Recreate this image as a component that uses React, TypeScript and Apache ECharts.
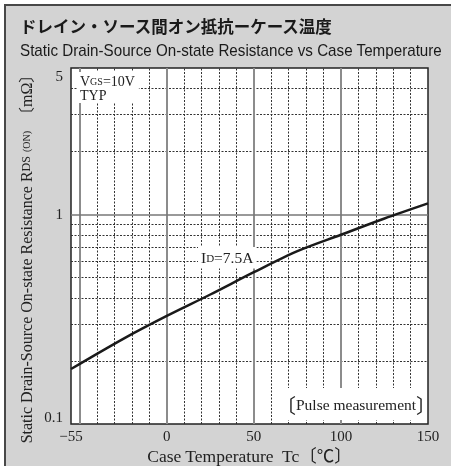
import React, { useEffect, useRef } from "react";
import * as echarts from "echarts";

// Case temperature (°C) and typical on-resistance (mΩ)
const temps = [-55, -25, 0, 25, 50, 75, 100, 125, 150];
const rdsOn = [0.183, 0.255, 0.328, 0.415, 0.53, 0.668, 0.8, 0.957, 1.13];

// tick labels
const xTickLabels = [-55, 0, 50, 100, 150];

// grid lines
const xMajorGrid = [-50, 0, 50, 100];
const xMinorGrid = [-40, -30, -20, -10, 10, 20, 30, 40, 60, 70, 80, 90, 110, 120, 130, 140];
const yMajorGrid = [1];
const yMinorGrid = [0.2, 0.3, 0.4, 0.5, 0.6, 0.7, 0.8, 0.9, 2, 3, 4];

const titleJa = "ドレイン・ソース間オン抵抗ーケース温度";
const titleEn = "Static Drain-Source On-state Resistance vs Case Temperature";

const SERIF = "'Liberation Serif', 'Noto Sans CJK JP', serif";

export default function App() {
  const ref = useRef<HTMLDivElement>(null);
  useEffect(() => {
    if (!ref.current) return;
    const chart = echarts.init(ref.current, undefined, { renderer: "svg" });
    const minorLine = { type: [2, 1.5] as any, color: "#333", width: 1 };
    const pairs = temps.map((t, i) => [t, rdsOn[i]]);
    chart.setOption({
      animation: false,
      grid: {
        left: 71,
        top: 68,
        right: 23,
        bottom: 42,
        show: true,
        backgroundColor: "#fff",
        borderColor: "#222",
        borderWidth: 1.5,
        containLabel: false,
        outerBoundsMode: "none",
        z: 2,
      },
      xAxis: {
        type: "value",
        min: -55,
        max: 150,
        axisLine: { show: false },
        axisTick: { show: false },
        splitLine: { show: false },
        axisLabel: {
          customValues: xTickLabels,
          margin: 4,
          color: "#222",
          fontFamily: SERIF,
          fontSize: 15,
          lineHeight: 15,
          formatter: (v: number) => (v < 0 ? "\u2212" + Math.abs(v) : String(v)),
        },
        name: "Case Temperature  Tc\u3014\u2103\u3015",
        nameLocation: "middle",
        nameGap: 23,
        nameMoveOverlap: false,
        nameTextStyle: { color: "#222", fontFamily: SERIF, fontSize: 17.5, lineHeight: 17 },
      },
      yAxis: {
        type: "log",
        logBase: 10,
        min: 0.1,
        max: 5,
        axisLine: { show: false },
        axisTick: { show: false },
        splitLine: { show: false },
        minorSplitLine: { show: false },
        axisLabel: {
          margin: 8,
          color: "#222",
          fontFamily: SERIF,
          fontSize: 15,
          showMaxLabel: true,
          showMinLabel: true,
          verticalAlignMinLabel: "bottom",
          verticalAlignMaxLabel: "top",
          formatter: (v: number) => String(v),
        },
      },
      graphic: [
        { type: "rect", z: -10, silent: true, shape: { x: 0, y: 0, width: 451, height: 466 }, style: { fill: "#fff" } },
        { type: "rect", z: -9, silent: true, shape: { x: 4, y: 4, width: 447, height: 462 }, style: { fill: "#484848" } },
        { type: "rect", z: -8, silent: true, shape: { x: 6, y: 6, width: 445, height: 460 }, style: { fill: "#d3d3d3" } },
        {
          type: "text",
          z: 10,
          x: 20,
          y: 26,
          style: {
            text: titleJa,
            fill: "#1a1a1a",
            font: "bold 16.5px 'Noto Sans CJK JP'",
            verticalAlign: "middle",
          },
        },
        {
          type: "text",
          z: 10,
          x: 20,
          y: 50,
          scaleX: 0.95,
          style: {
            text: titleEn,
            fill: "#1a1a1a",
            font: "16px 'Liberation Sans'",
            verticalAlign: "middle",
          },
        },
        {
          type: "text",
          z: 10,
          x: 26,
          y: 255,
          rotation: Math.PI / 2,
          style: {
            text: "{n|Static Drain-Source On-state Resistance R}{s|DS}{n| }{t|(ON)}{n|  \u3014m\u03A9\u3015}",
            align: "center",
            verticalAlign: "middle",
            fill: "#222",
            rich: {
              n: { fontFamily: SERIF, fontSize: 16, fill: "#222" },
              s: { fontFamily: SERIF, fontSize: 12, fill: "#222" },
              t: { fontFamily: SERIF, fontSize: 10, fill: "#222" },
            },
          },
        },
        // in-plot annotations
        {
          type: "text",
          z: 20,
          x: 78,
          y: 72,
          style: {
            text: "{n|V}{s|GS}{n|=10V}\n{n|TYP}",
            fill: "#222",
            backgroundColor: "#fff",
            padding: [2, 4, 1, 2],
            rich: {
              n: { fontFamily: SERIF, fontSize: 14, lineHeight: 14, fill: "#222" },
              s: { fontFamily: SERIF, fontSize: 10, lineHeight: 14, fill: "#222" },
            },
          },
        },
        {
          type: "text",
          z: 20,
          x: 198,
          y: 247,
          style: {
            text: "{n|I}{s|D}{n|=7.5A}",
            fill: "#222",
            backgroundColor: "#fff",
            padding: [3, 3, 3, 3],
            rich: {
              n: { fontFamily: SERIF, fontSize: 15.5, fill: "#222" },
              s: { fontFamily: SERIF, fontSize: 11, fill: "#222" },
            },
          },
        },
        { type: "rect", z: 19, silent: true, shape: { x: 285, y: 388, width: 139, height: 32 }, style: { fill: "#fff" } },
        {
          type: "text",
          z: 20,
          x: 276,
          y: 404,
          style: {
            text: "{b|\u3014}{n|Pulse measurement}{b|\u3015}",
            fill: "#222",
            verticalAlign: "middle",
            rich: {
              n: { fontFamily: SERIF, fontSize: 15.5, fill: "#222" },
              b: { fontFamily: "'Noto Sans CJK JP'", fontSize: 20, fill: "#222" },
            },
          },
        },
      ],
      series: [
        {
          type: "line",
          data: [],
          z: 3,
          silent: true,
          markLine: {
            silent: true,
            symbol: "none",
            label: { show: false },
            animation: false,
            data: [
              ...xMinorGrid.map((v) => ({ xAxis: v, lineStyle: minorLine })),
              ...yMinorGrid.map((v) => ({ yAxis: v, lineStyle: minorLine })),
              ...xMajorGrid.map((v) => ({ xAxis: v, lineStyle: { type: "solid", color: "#8c8c8c", width: 2 } })),
              ...yMajorGrid.map((v) => ({ yAxis: v, lineStyle: { type: "solid", color: "#777", width: 1.5 } })),
            ],
          },
        },
        {
          type: "line",
          data: pairs,
          z: 5,
          smooth: 0.3,
          symbol: "none",
          lineStyle: { color: "#1a1a1a", width: 2.5 },
        },
      ],
    });
    return () => chart.dispose();
  }, []);
  return (
    <div
      ref={ref}
      style={{ position: "fixed", left: 0, top: 0, width: 451, height: 466 }}
    />
  );
}
